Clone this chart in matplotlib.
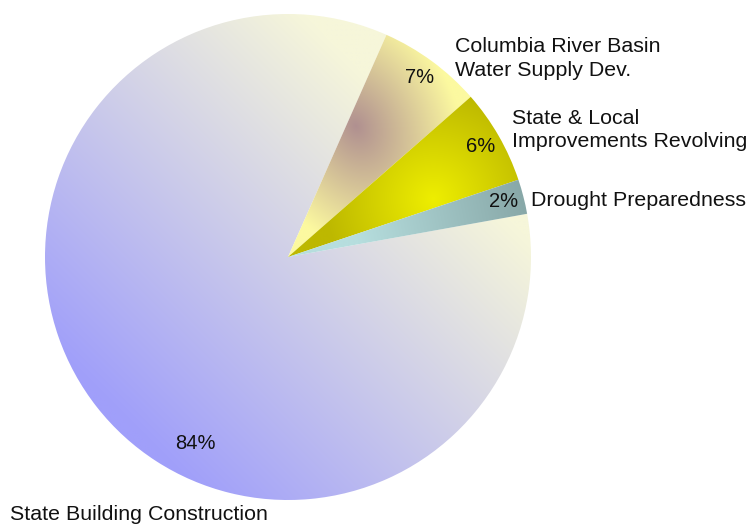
import numpy as np
import matplotlib
matplotlib.use("Agg")
import matplotlib.pyplot as plt
from matplotlib.colors import to_rgb

categories = ["Columbia River Basin\nWater Supply Dev.",
              "State & Local\nImprovements Revolving",
              "Drought Preparedness",
              "State Building Construction"]
values = [6.9, 6.3, 2.3, 84.4]
pct_labels = ["7%", "6%", "2%", "84%"]

plt.rcParams['font.family'] = ['Liberation Sans', 'DejaVu Sans']

fig = plt.figure(figsize=(7.48, 5.25), dpi=100)
W, H = 748, 525
cx, cy, R = 288, 257, 243
ax = fig.add_axes([(cx - R) / W, (H - cy - R) / H, 2 * R / W, 2 * R / H])

wedges, _ = ax.pie(values, startangle=66.1, counterclock=False, radius=1,
                   center=(0, 0), colors=['none'] * 4,
                   wedgeprops=dict(linewidth=0, edgecolor='none'), frame=True)
ax.axis('off')
ax.set_xlim(-1, 1)
ax.set_ylim(-1, 1)
ax.set_aspect('equal')

N = 500
xs = np.linspace(-1, 1, N)
X, Y = np.meshgrid(xs, xs[::-1])


def mix(c0, c1, t):
    c0 = np.array(to_rgb(c0)); c1 = np.array(to_rgb(c1))
    t = np.clip(t, 0, 1)[..., None]
    return c0 * (1 - t) + c1 * t


def draw(img, wedge):
    im = ax.imshow(img, extent=(-1, 1, -1, 1), origin='upper', interpolation='bilinear', zorder=1)
    im.set_clip_path(wedge)

# State Building: linear bottom-left -> top-right
t = ((X + Y) / np.sqrt(2) + 0.95) / 1.7
draw(mix('#a09ffa', '#f6f6da', t), wedges[3])

# Columbia: elongated radial from mauve spot
u = (X - 0.28) * 0.9 + (Y - 0.54) * 0.44
v = -(X - 0.28) * 0.44 + (Y - 0.54) * 0.9
d = np.hypot(u / 0.42, v / 0.55)
draw(mix('#b09090', '#fcf9a0', d), wedges[0])

# State & Local: radial bright centre
d = np.hypot(X - 0.6, Y - 0.24) / 0.45
draw(mix('#eeee00', '#bdb800', d), wedges[1])

# Drought: linear outward
t = (X * 0.98 + Y * 0.2 - 0.3) / 0.7
draw(mix('#b6dede', '#88a8a8', t), wedges[2])

# percentage labels
angles = []
start = 66.1
for val in values:
    span = val / sum(values) * 360
    angles.append(start - span / 2)
    start -= span
for i in range(3):
    a = np.deg2rad(angles[i])
    r = 0.915
    ax.text(r * np.cos(a), r * np.sin(a), pct_labels[i], ha='center', va='center',
            fontsize=14.5, color='#111111', zorder=3)
ax.text(-0.383, -0.769, pct_labels[3], ha='center', va='center', fontsize=14.5,
        color='#111111', zorder=3)

# category labels
fs = 15.4
fig.text(455 / W, 1 - 58.5 / H, categories[0], ha='left', va='center', fontsize=fs,
         linespacing=1.38, color='#111111')
fig.text(512 / W, 1 - 130 / H, categories[1], ha='left', va='center', fontsize=fs,
         linespacing=1.33, color='#111111')
fig.text(531 / W, 1 - 201 / H, categories[2], ha='left', va='center', fontsize=fs,
         color='#111111')
fig.text(10 / W, 1 - 515 / H, categories[3], ha='left', va='center', fontsize=fs,
         color='#111111')

fig.savefig("out.png", dpi=100)
